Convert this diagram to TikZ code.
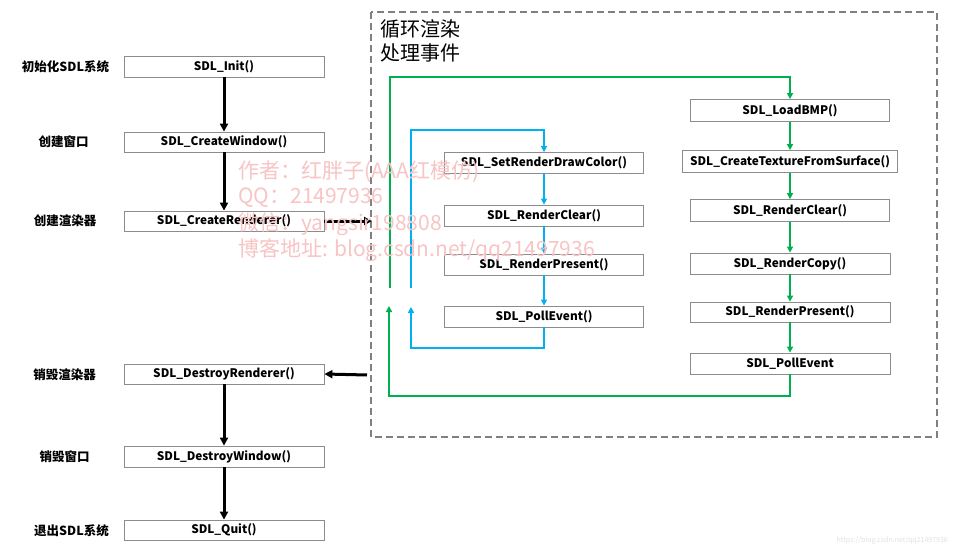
\documentclass[tikz,border=0pt]{standalone}
\usepackage{fontspec}
\setmainfont{Noto Sans CJK SC}
\newfontfamily\cjk{Noto Sans CJK SC}
\usetikzlibrary{arrows.meta}
\definecolor{boxgray}{HTML}{8C8C8C}
\definecolor{dashgray}{HTML}{808080}
\definecolor{lgreen}{HTML}{00B050}
\definecolor{lblue}{HTML}{00B0F0}
\definecolor{wmark}{HTML}{F8C4C4}
\definecolor{wgray}{HTML}{E2E2E2}
\tikzset{
  fbox/.style={draw=boxgray, line width=0.8pt, minimum width=200pt, minimum height=21pt, inner sep=0pt, font=\fontsize{11.8}{14}\selectfont\bfseries},
  lbl/.style={font=\fontsize{12.5}{14}\selectfont\bfseries, inner sep=0pt},
  blk/.style={line width=3pt, -{Triangle[length=8pt,width=8pt]}},
  grn/.style={draw=lgreen, line width=2pt},
  blu/.style={draw=lblue, line width=2pt},
  gtip/.style={-{Triangle[length=6pt,width=6pt]}},
  wm/.style={text=wmark, font=\fontsize{21}{22}\selectfont, inner sep=0pt, anchor=west},
}
\begin{document}
\begin{tikzpicture}[x=1pt,y=-1pt]
\useasboundingbox (0,0) rectangle (958,556);
\fill[white] (0,0) rectangle (958,556);

% dashed loop region
\draw[dashgray, line width=1.5pt, dash pattern=on 7pt off 4pt] (371,12) rectangle (937,437);
\node[anchor=north west, inner sep=0pt, align=left, font=\fontsize{20}{24}\selectfont] (title) at (380,19) {循环渲染\\处理事件};

% left column
\node[fbox, minimum height=21pt] (init) at (224,66.5) {SDL\_Init()};
\node[fbox, minimum height=20pt] (win) at (224,142) {SDL\_CreateWindow()};
\node[fbox, minimum height=20pt] (ren) at (224,221) {SDL\_CreateRenderer()};
\node[fbox, minimum height=20pt] (dren) at (224,374) {SDL\_DestroyRenderer()};
\node[fbox, minimum height=21pt] (dwin) at (224,456.5) {SDL\_DestroyWindow()};
\node[fbox, minimum height=20pt] (quit) at (224,530) {SDL\_Quit()};

\node[lbl] (l1) at (65.5,67) {初始化SDL系统};
\node[lbl] (l2) at (63.5,142) {创建窗口};
\node[lbl] (l3) at (65,221) {创建渲染器};
\node[lbl] (l4) at (64.5,375) {销毁渲染器};
\node[lbl] (l5) at (64.5,457) {销毁窗口};
\node[lbl] (l6) at (71.5,531) {退出SDL系统};

\draw[blk] (init) -- (win);
\draw[blk] (win) -- (ren);
\draw[blk] (dren) -- (dwin);
\draw[blk] (dwin) -- (quit);

\coordinate (inA) at (372,221);
\coordinate (outA) at (367,375);
\draw[blk] (ren.east) -- (inA);
\draw[blk] (outA) -- (dren.east);

% middle column
\node[fbox, minimum width=199pt] (setc) at (544,163) {SDL\_SetRenderDrawColor()};
\node[fbox, minimum width=199pt] (rc) at (544,215.5) {SDL\_RenderClear()};
\node[fbox, minimum width=199pt] (rp) at (544,264.5) {SDL\_RenderPresent()};
\node[fbox, minimum width=199pt] (pe) at (544,316.5) {SDL\_PollEvent()};

% right column
\node[fbox, minimum width=199pt, minimum height=22pt] (bmp) at (790,110.5) {SDL\_LoadBMP()};
\node[fbox, minimum width=215pt, minimum height=22pt] (tex) at (790,161.5) {SDL\_CreateTextureFromSurface()};
\node[fbox, minimum width=199pt, minimum height=22pt] (rc2) at (790,210.5) {SDL\_RenderClear()};
\node[fbox, minimum width=200pt, minimum height=21pt] (copy) at (790,263.5) {SDL\_RenderCopy()};
\node[fbox, minimum width=200pt, minimum height=20pt] (pres) at (790,312) {SDL\_RenderPresent()};
\node[fbox, minimum width=200pt, minimum height=21pt] (pe2) at (790,363.5) {SDL\_PollEvent};

% green loop
\coordinate (g0) at (390,288);
\coordinate (g1) at (390,77);
\coordinate (g2) at (790,77);
\coordinate (g3) at (790,396);
\coordinate (g4) at (389,396);
\coordinate (g5) at (389,306);
\draw[grn, gtip] (g0) -- (g1) -- (g2) -- (bmp.north);
\draw[grn, gtip] (bmp) -- (tex);
\draw[grn, gtip] (tex) -- (rc2);
\draw[grn, gtip] (rc2) -- (copy);
\draw[grn, gtip] (copy) -- (pres);
\draw[grn, gtip] (pres) -- (pe2);
\draw[grn, gtip] (pe2.south) -- (g3) -- (g4) -- (g5);

% blue loop
\coordinate (b0) at (411,288);
\coordinate (b1) at (411,130);
\coordinate (b2) at (544,130);
\coordinate (b3) at (544,348);
\coordinate (b4) at (411,348);
\coordinate (b5) at (411,307);
\draw[blu, gtip] (b0) -- (b1) -- (b2) -- (setc.north);
\draw[blu, gtip] (setc) -- (rc);
\draw[blu, gtip] (rc) -- (rp);
\draw[blu, gtip] (rp) -- (pe);
\draw[blu, gtip] (pe.south) -- (b3) -- (b4) -- (b5);

% watermark
\node[wm] (w1) at (238,172) {作者：红胖子(AAA红模仿)};
\node[wm] (w2) at (238,198) {QQ：21497936};
\node[wm] (w3) at (238,224) {微信：yangsir198808};
\node[wm] (w4) at (238,250) {博客地址: blog.csdn.net/qq21497936};
\node[anchor=east, inner sep=0pt, text=wgray, font=\fontsize{7}{8}\selectfont] (w5) at (948,541) {https://blog.csdn.net/qq21497936};
\end{tikzpicture}
\end{document}
